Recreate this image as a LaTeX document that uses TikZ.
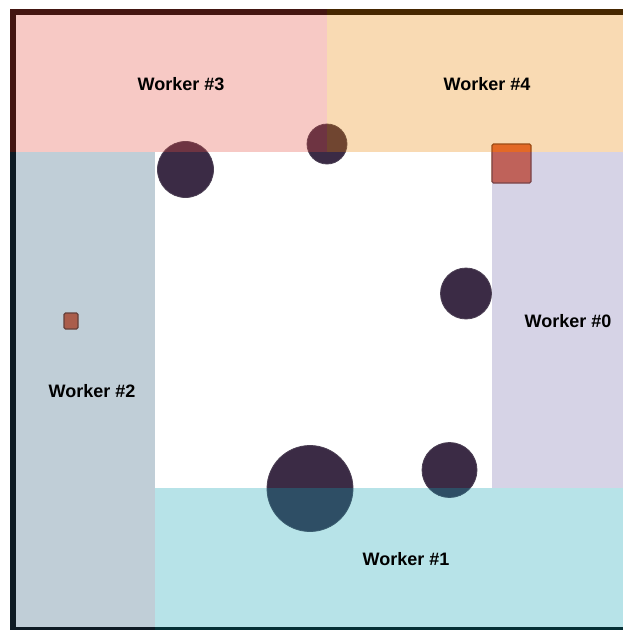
\documentclass[tikz,border=0pt]{standalone}
\usepackage{fontspec}
\setmainfont{Liberation Sans}
\usepackage{xcolor}
\definecolor{wzero}{RGB}{118,108,172}
\definecolor{wone}{RGB}{18,162,178}
\definecolor{wtwo}{RGB}{48,92,122}
\definecolor{wthree}{RGB}{228,75,62}
\definecolor{wfour}{RGB}{235,132,2}
\definecolor{obstacle}{HTML}{3B2B45}
\definecolor{agent}{RGB}{224,94,55}
\usepackage{tikz}

\tikzset{
  zone/.style={fill opacity=0.3},
  obst/.style={fill=obstacle, draw=obstacle!75!gray, line width=0.8pt},
  agentbox/.style={fill=agent, draw=agent!55!black, line width=1.2pt, rounded corners=1.5pt},
  lbl/.style={font=\fontsize{18}{20}\selectfont\bfseries}
}

\begin{document}
\begin{tikzpicture}[x=1pt,y=-1pt]
  \useasboundingbox (0,0) rectangle (623,630);
  \clip (0,0) rectangle (623,630);
  % arena frame
  \draw[line width=6pt] (13,11.5) rectangle (640,629.5);
  % obstacles
  \draw[obst] (185.5,169.5) circle (28pt);
  \draw[obst] (327,144) circle (20pt);
  \draw[obst] (466,293.5) circle (25.5pt);
  \draw[obst] (310,488.5) circle (43pt);
  \draw[obst] (449.5,470) circle (27.5pt);
  % agents
  \draw[agentbox] (492,144) rectangle (531,183);
  \draw[agentbox] (64,313) rectangle (78,329);
  % worker zones
  \fill[wthree, zone] (10,8.5) rectangle (327,152);
  \fill[wfour, zone] (327,8.5) rectangle (623,152);
  \fill[wtwo, zone] (10,152) rectangle (155,630);
  \fill[wzero, zone] (492,152) rectangle (623,488);
  \fill[wone, zone] (155,488) rectangle (623,630);
  % labels
  \node[lbl] (w3) at (181,84) {Worker \#3};
  \node[lbl] (w4) at (487,84) {Worker \#4};
  \node[lbl] (w0) at (568,321) {Worker \#0};
  \node[lbl] (w2) at (92,391) {Worker \#2};
  \node[lbl] (w1) at (406,559) {Worker \#1};
\end{tikzpicture}
\end{document}
